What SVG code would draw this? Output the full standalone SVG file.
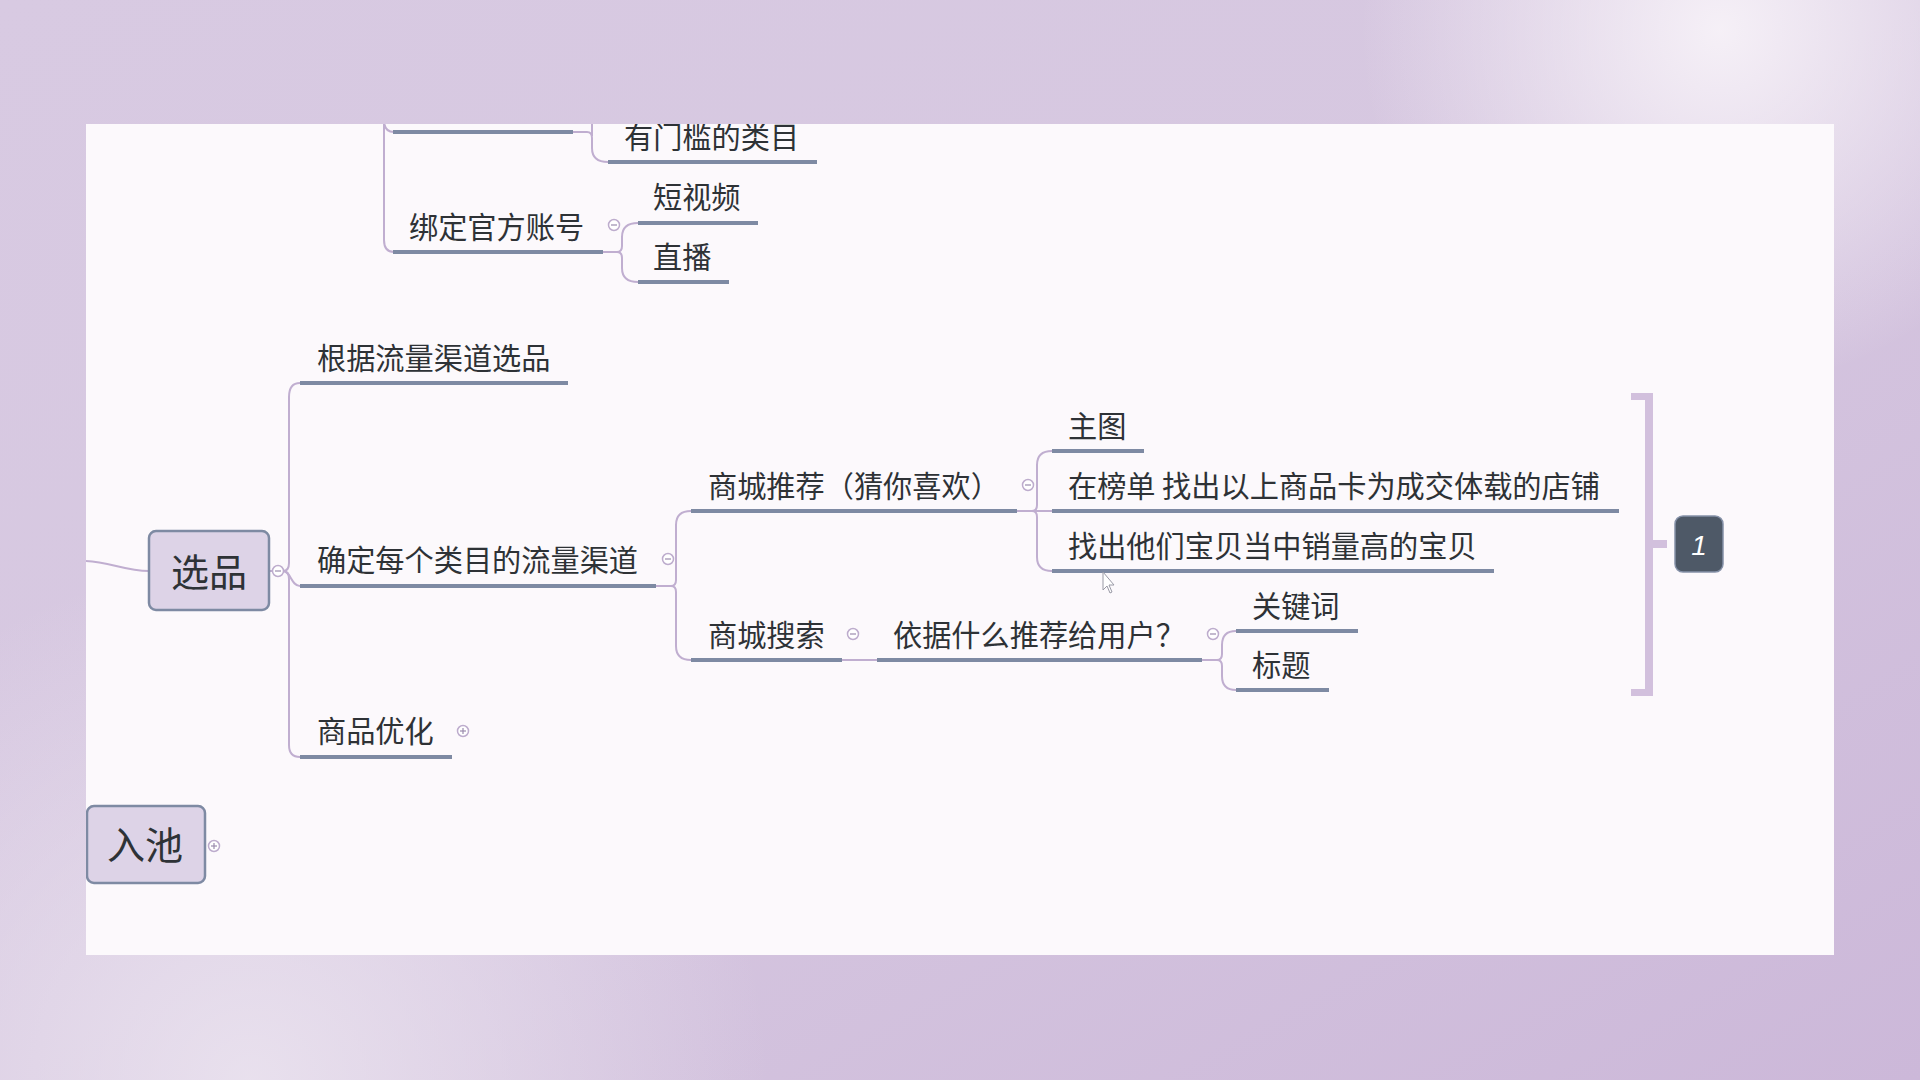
<svg xmlns="http://www.w3.org/2000/svg" width="1920" height="1080" viewBox="0 0 1920 1080">
  <defs>
    <linearGradient id="bg" x1="0" y1="0" x2="1" y2="1">
      <stop offset="0" stop-color="#d8cae2"/>
      <stop offset="0.5" stop-color="#d6c7e0"/>
      <stop offset="1" stop-color="#ccb8d9"/>
    </linearGradient>
    <radialGradient id="spot1" cx="1720" cy="30" r="360" gradientUnits="userSpaceOnUse">
      <stop offset="0" stop-color="#f7f2f8" stop-opacity="0.95"/>
      <stop offset="1" stop-color="#f7f2f8" stop-opacity="0"/>
    </radialGradient>
    <radialGradient id="spot2" cx="250" cy="1080" r="520" gradientUnits="userSpaceOnUse">
      <stop offset="0" stop-color="#ece5f0" stop-opacity="0.85"/>
      <stop offset="1" stop-color="#ece5f0" stop-opacity="0"/>
    </radialGradient>
    <clipPath id="panelClip">
      <rect x="86" y="124" width="1748" height="831"/>
    </clipPath>
    <style>
      .txt { font-family: "Noto Sans CJK SC", "Noto Sans", sans-serif; font-size: 29.2px; fill: #2e3236; }
      .big { font-family: "Noto Sans CJK SC", "Noto Sans", sans-serif; font-size: 38px; fill: #2e3236; text-anchor: middle; }
      .ul { stroke: #7e8aa3; stroke-width: 4; stroke-linecap: butt; fill: none; }
      .con { stroke: #c0aed0; stroke-width: 2; fill: none; }
      .box { fill: #ddd3e7; stroke: #7e8aa3; stroke-width: 2.5; }
      .tog { fill: #ffffff; stroke: #bdaccd; stroke-width: 1.5; }
      .tg { stroke: #9a8cae; stroke-width: 1.2; }
      .brk { fill: #d2c0dd; }
    </style>
  </defs>

  <!-- background -->
  <rect width="1920" height="1080" fill="url(#bg)"/>
  <rect width="1920" height="1080" fill="url(#spot1)"/>
  <rect width="1920" height="1080" fill="url(#spot2)"/>

  <!-- white panel -->
  <rect x="86" y="124" width="1748" height="831" fill="#fcf9fc"/>

  <g clip-path="url(#panelClip)">
    <!-- connectors -->
    <g id="connectors" class="con">
      <path d="M86,561 C110,562 125,571 149,571"/>
      <path d="M384,100 V120 Q384,132 394,132"/>
      <path d="M384,100 V240 Q384,252 394,252"/>
      <path d="M573,132 H587 Q592,132 592,138 V148 Q592,162 608,162"/>
      <path d="M592,136 V100"/>
      <path d="M603,252 H617 Q622,252 622,246 V237 Q622,223 638,223"/>
      <path d="M603,252 H617 Q622,252 622,258 V268 Q622,282 638,282"/>
      <path d="M269,571 H283 Q289,571 289,563 V397 Q289,383 300,383"/>
      <path d="M269,571 H283 C291,571 291,586 300,586"/>
      <path d="M269,571 H283 Q289,571 289,579 V745 Q289,757 300,757"/>
      <path d="M656,586 H671 Q676,586 676,580 V525 Q676,511 691,511"/>
      <path d="M656,586 H671 Q676,586 676,592 V646 Q676,660 691,660"/>
      <path d="M1017,511 H1032 Q1037,511 1037,505 V465 Q1037,451 1052,451"/>
      <path d="M1017,511 H1052"/>
      <path d="M1017,511 H1032 Q1037,511 1037,517 V557 Q1037,571 1052,571"/>
      <path d="M842,660 H877"/>
      <path d="M1202,660 H1217 Q1222,660 1222,654 V645 Q1222,631 1236,631"/>
      <path d="M1202,660 H1217 Q1222,660 1222,666 V676 Q1222,690 1236,690"/>
    </g>

    <g id="node-top-cut">
      <line class="ul" x1="393" y1="132" x2="573" y2="132"/>
    </g>
    <g id="node-youmenkan">
      <text class="txt" x="624" y="148">有门槛的类目</text>
      <line class="ul" x1="608" y1="162" x2="817" y2="162"/>
    </g>
    <g id="node-bangding">
      <text class="txt" x="409" y="238">绑定官方账号</text>
      <line class="ul" x1="393" y1="252" x2="603" y2="252"/>
      <circle class="tog" cx="614" cy="225" r="5.5"/>
      <line class="tg" x1="611" y1="225" x2="617" y2="225"/>
    </g>
    <g id="node-duanshipin">
      <text class="txt" x="653" y="208">短视频</text>
      <line class="ul" x1="638" y1="223" x2="758" y2="223"/>
    </g>
    <g id="node-zhibo">
      <text class="txt" x="653" y="268">直播</text>
      <line class="ul" x1="638" y1="282" x2="729" y2="282"/>
    </g>

    <g id="node-xuanpin">
      <rect class="box" x="149" y="531" width="120" height="79" rx="7"/>
      <text class="big" x="209" y="586">选品</text>
      <circle class="tog" cx="278" cy="571" r="5.5"/>
      <line class="tg" x1="275" y1="571" x2="281" y2="571"/>
    </g>
    <g id="node-genju">
      <text class="txt" x="317" y="369">根据流量渠道选品</text>
      <line class="ul" x1="300" y1="383" x2="568" y2="383"/>
    </g>
    <g id="node-queding">
      <text class="txt" x="317" y="571">确定每个类目的流量渠道</text>
      <line class="ul" x1="300" y1="586" x2="656" y2="586"/>
      <circle class="tog" cx="668" cy="559" r="5.5"/>
      <line class="tg" x1="665" y1="559" x2="671" y2="559"/>
    </g>
    <g id="node-shangpinyouhua">
      <text class="txt" x="317" y="742">商品优化</text>
      <line class="ul" x1="300" y1="757" x2="452" y2="757"/>
      <circle class="tog" cx="463" cy="731" r="5.5"/>
      <line class="tg" x1="460" y1="731" x2="466" y2="731"/>
      <line class="tg" x1="463" y1="728" x2="463" y2="734"/>
    </g>

    <g id="node-tuijian">
      <text class="txt" x="708" y="497">商城推荐（猜你喜欢）</text>
      <line class="ul" x1="691" y1="511" x2="1017" y2="511"/>
      <circle class="tog" cx="1028" cy="485" r="5.5"/>
      <line class="tg" x1="1025" y1="485" x2="1031" y2="485"/>
    </g>
    <g id="node-sousuo">
      <text class="txt" x="708" y="646">商城搜索</text>
      <line class="ul" x1="691" y1="660" x2="842" y2="660"/>
      <circle class="tog" cx="853" cy="634" r="5.5"/>
      <line class="tg" x1="850" y1="634" x2="856" y2="634"/>
    </g>
    <g id="node-yiju">
      <text class="txt" x="893" y="646">依据什么推荐给用户？</text>
      <line class="ul" x1="877" y1="660" x2="1202" y2="660"/>
      <circle class="tog" cx="1213" cy="634" r="5.5"/>
      <line class="tg" x1="1210" y1="634" x2="1216" y2="634"/>
    </g>

    <g id="node-zhutu">
      <text class="txt" x="1068" y="437">主图</text>
      <line class="ul" x1="1052" y1="451" x2="1144" y2="451"/>
    </g>
    <g id="node-bangdan">
      <text class="txt" x="1068" y="497">在榜单 找出以上商品卡为成交体载的店铺</text>
      <line class="ul" x1="1052" y1="511" x2="1619" y2="511"/>
    </g>
    <g id="node-zhaochu">
      <text class="txt" x="1068" y="557">找出他们宝贝当中销量高的宝贝</text>
      <line class="ul" x1="1052" y1="571" x2="1494" y2="571"/>
    </g>
    <g id="node-guanjianci">
      <text class="txt" x="1252" y="617">关键词</text>
      <line class="ul" x1="1236" y1="631" x2="1358" y2="631"/>
    </g>
    <g id="node-biaoti">
      <text class="txt" x="1252" y="676">标题</text>
      <line class="ul" x1="1236" y1="690" x2="1329" y2="690"/>
    </g>

    <g id="summary-bracket">
      <rect class="brk" x="1645" y="393" width="8" height="303"/>
      <rect class="brk" x="1631" y="393" width="22" height="7"/>
      <rect class="brk" x="1631" y="689" width="22" height="7"/>
      <rect class="brk" x="1653" y="540" width="14" height="8"/>
    </g>
    <g id="node-summary-1">
      <rect x="1675" y="516" width="48" height="56" rx="8" fill="#4e5967" stroke="#8591a8" stroke-width="1.5"/>
      <text x="1699" y="555" font-family="Liberation Sans, sans-serif" font-size="28" font-style="italic" fill="#ffffff" text-anchor="middle">1</text>
    </g>

    <g id="node-ruchi">
      <rect class="box" x="87" y="806" width="118" height="77" rx="7"/>
      <text class="big" x="145" y="859">入池</text>
      <circle class="tog" cx="214" cy="846" r="5.5"/>
      <line class="tg" x1="211" y1="846" x2="217" y2="846"/>
      <line class="tg" x1="214" y1="843" x2="214" y2="849"/>
    </g>

    <path d="M1103,572 L1103,590 L1107,586 L1110,593 L1112,592 L1109,585 L1114,585 Z" fill="#ffffff" stroke="#9a9aa6" stroke-width="1"/>
  </g>
</svg>
